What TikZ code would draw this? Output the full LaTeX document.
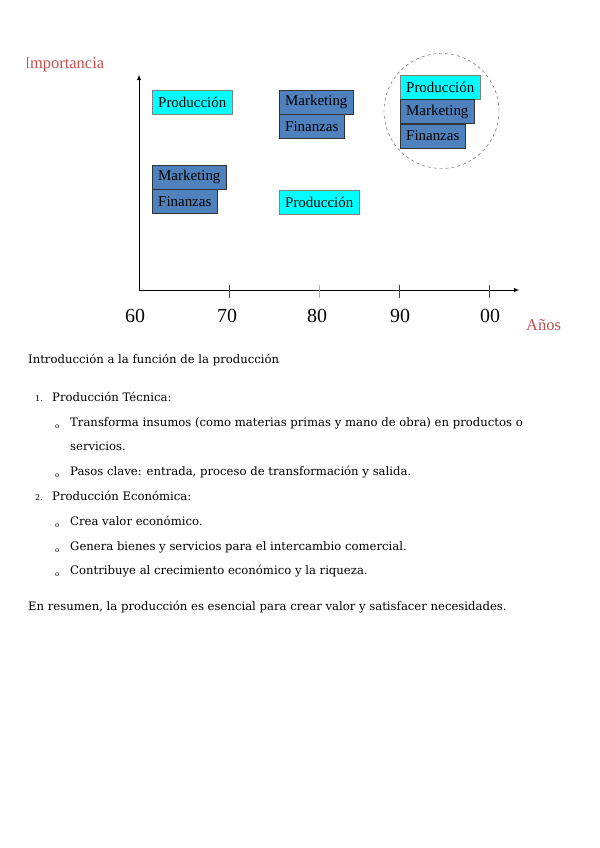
\documentclass[tikz,border=0pt]{standalone}
\usepackage{fontspec}
\setmainfont{DejaVu Serif}
\newfontfamily\chartfont{Liberation Serif}
\usetikzlibrary{arrows.meta,positioning}
\definecolor{azul}{HTML}{4F81BD}
\definecolor{turq}{RGB}{0,255,255}
\definecolor{rojo}{HTML}{C0504D}
\tikzset{b/.style={draw=black!80,fill=azul,font=\chartfont\fontsize{15}{15}\selectfont,minimum height=24bp,inner xsep=6bp,inner ysep=0pt,anchor=north west},
 c/.style={b,draw=gray,fill=turq},
 ax/.style={-{Latex[length=5bp,width=4bp]},thin},
 tk/.style={font=\chartfont\fontsize{20}{20}\selectfont},
 lab/.style={anchor=base west,inner sep=0pt,font=\chartfont\fontsize{16.5}{16.5}\selectfont,text=rojo},
 txt/.style={anchor=base west,inner sep=0pt,font=\fontsize{11.7}{13}\selectfont},
 num/.style={anchor=base west,inner sep=0pt,font=\fontsize{8}{8}\selectfont},
 bul/.style={anchor=base west,inner sep=0pt,font=\fontsize{7}{7}\selectfont}}
\begin{document}
\begin{tikzpicture}[x=1bp,y=-1bp]
\useasboundingbox[fill=white] (0,0) rectangle (600,848);
% ejes
\coordinate (o) at (139,290);\coordinate (yt) at (139,75);\coordinate (xt) at (519,290);
\draw[ax] (o)--(yt);\draw[ax] (o)--(xt);
\foreach \x/\c in {229/black!75,319/black!30,399/black!75,489/black!75}
 {\draw[\c] (\x,285)--(\x,298);}
\node[tk] (t60) at (135,316) {60};\node[tk] (t70) at (227,316) {70};
\node[tk] (t80) at (317,316) {80};\node[tk] (t90) at (400,316) {90};
\node[tk] (t00) at (490,316) {00};
\node[lab] (anos) at (526,330) {Años};
\begin{scope}\clip (27,40) rectangle (200,85);
\node[lab] (imp) at (24.5,68) {Importancia};
\end{scope}
% cajas
\node[c] (p1) at (152,90) {Producción};
\node[b] (m1) at (152,165) {Marketing};
\node[b,below right=0bp and 0bp of m1.south west] (f1) {Finanzas};
\node[b] (m2) at (279,90) {Marketing};
\node[b,below right=0bp and 0bp of m2.south west] (f2) {Finanzas};
\node[c] (p2) at (279,190) {Producción};
\node[draw=black!70,dashed,circle,minimum size=115bp] (grp) at (441.5,111) {};
\node[c] (p3) at (400,75) {Producción};
\node[b,below right=0bp and 0bp of p3.south west] (m3) {Marketing};
\node[b,below right=0bp and 0bp of m3.south west] (f3) {Finanzas};
% texto
\node[txt] (intro) at (28,363) {Introducción a la función de la producción};
\node[num] (n1) at (35,401) {1.};
\node[txt] (l1) at (52,401) {Producción Técnica:};
\node[bul] (b1) at (55,428) {o};
\node[txt] (l2) at (70,426) {Transforma insumos (como materias primas y mano de obra) en productos o};
\node[txt] (l3) at (70,450) {servicios.};
\node[bul] (b2) at (55,477) {o};
\node[txt] (l4) at (70,475) {Pasos clave: entrada, proceso de transformación y salida.};
\node[num] (n2) at (35,500) {2.};
\node[txt] (l5) at (52,500) {Producción Económica:};
\node[bul] (b3) at (55,527) {o};
\node[txt] (l6) at (70,525) {Crea valor económico.};
\node[bul] (b4) at (55,552) {o};
\node[txt] (l7) at (70,550) {Genera bienes y servicios para el intercambio comercial.};
\node[bul] (b5) at (55,576) {o};
\node[txt] (l8) at (70,574) {Contribuye al crecimiento económico y la riqueza.};
\node[txt] (res) at (28,610) {En resumen, la producción es esencial para crear valor y satisfacer necesidades.};
\end{tikzpicture}
\end{document}
